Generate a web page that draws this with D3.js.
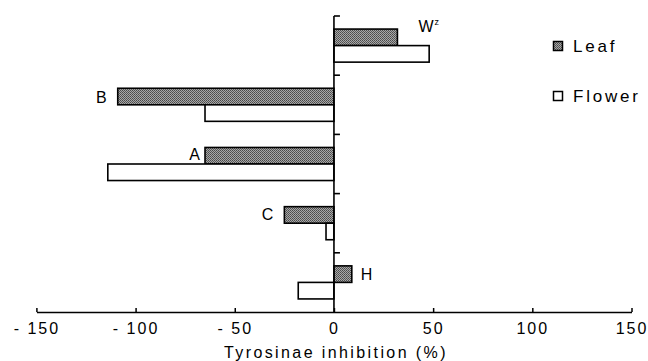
<!DOCTYPE html>
<html><head><meta charset="utf-8">
<script src="https://cdn.jsdelivr.net/npm/d3@7"></script>
<style>
html,body{margin:0;padding:0;background:#fff;}
svg text{font-family:"Liberation Sans",Arial,sans-serif;fill:#000;}
</style></head>
<body><svg id="c" width="648" height="361"></svg>
<script>
const categories = ["W", "B", "A", "C", "H"];
const series = ["Leaf", "Flower"];
const leafValues = [32, -109, -65, -25, 9];
const flowerValues = [48, -65, -114, -4, -18];
const xTicks = [-150, -100, -50, 0, 50, 100, 150];
const barLabels = ["W", "B", "A", "C", "H"];
const xTitle = "Tyrosinae inhibition (%)";

// label placement (layout, not data)
const labelDx = [21, -11, -5, -11, 9];
const labelDy = [-11, 0, -2, -1, 0];

const svg = d3.select("#c");
const x = d3.scaleLinear().domain([-150, 150]).range([36.4, 631.5]);
const y = d3.scaleBand().domain(categories).range([16, 312]).padding(0);
const y1 = d3.scaleBand().domain(series).range([0, y.bandwidth()]).paddingInner(0).paddingOuter(0.79);

const defs = svg.append("defs");
const pat = defs.append("pattern").attr("id", "stip").attr("patternUnits", "userSpaceOnUse")
  .attr("width", 2).attr("height", 2);
pat.append("rect").attr("width", 2).attr("height", 2).attr("fill", "#a8a8a8");
pat.append("rect").attr("x", 0).attr("y", 0).attr("width", 1).attr("height", 1).attr("fill", "#4a4a4a");
pat.append("rect").attr("x", 1).attr("y", 1).attr("width", 1).attr("height", 1).attr("fill", "#5a5a5a");

const rows = categories.map((c, i) => ({c, i, Leaf: leafValues[i], Flower: flowerValues[i]}));

const g = svg.append("g");
rows.forEach(r => {
  series.forEach(s => {
    const v = r[s];
    g.append("rect")
      .attr("x", x(Math.min(0, v)))
      .attr("y", y(r.c) + y1(s))
      .attr("width", Math.abs(x(v) - x(0)))
      .attr("height", y1.bandwidth())
      .attr("fill", s === "Leaf" ? "url(#stip)" : "#fff")
      .attr("stroke", "#000").attr("stroke-width", 1.6);
  });
});

// bar letters
rows.forEach((r, i) => {
  const v = r.Leaf;
  const t = svg.append("text")
    .attr("x", x(v) + labelDx[i])
    .attr("y", y(r.c) + y1("Leaf") + y1.bandwidth() / 2 + 6 + labelDy[i])
    .attr("text-anchor", v < 0 ? "end" : "start")
    .attr("font-size", 16);
  t.append("tspan").text(barLabels[i]);
  if (i === 0) t.append("tspan").text("z").attr("font-size", 9).attr("dy", -7).attr("dx", 1);
});

// x axis
const xAxis = d3.axisBottom(x).tickValues(xTicks).tickSizeInner(-4).tickSizeOuter(0).tickPadding(10)
  .tickFormat(d => d < 0 ? "- " + Math.abs(d) : String(d));
const xa = svg.append("g").attr("transform", "translate(0,312)").call(xAxis);
xa.select(".domain").attr("stroke", "#000").attr("stroke-width", 1.6);
xa.selectAll(".tick line").attr("stroke", "#000").attr("stroke-width", 1.5);
xa.selectAll(".tick text").attr("font-size", 16).attr("letter-spacing", "2px")
  .attr("font-family", "Liberation Sans, Arial, sans-serif").attr("fill", "#000").attr("dy", "0.72em");

// y axis at zero
const yTickPos = categories.map(c => y(c));
svg.append("line").attr("x1", x(0)).attr("x2", x(0)).attr("y1", y.range()[0]).attr("y2", y.range()[1])
  .attr("stroke", "#000").attr("stroke-width", 1.6);
svg.selectAll(".yt").data(yTickPos).enter().append("line")
  .attr("x1", x(0)).attr("x2", x(0) + 6).attr("y1", d => d).attr("y2", d => d)
  .attr("stroke", "#000").attr("stroke-width", 1.6);

// axis title
svg.append("text").attr("x", x(0) + 2).attr("y", 358).attr("text-anchor", "middle")
  .attr("font-size", 16).attr("letter-spacing", "2.4px").text(xTitle);

// legend
const lg = svg.append("g").attr("transform", "translate(553,41)");
series.forEach((s, i) => {
  lg.append("rect").attr("x", 0.5).attr("y", i * 50 + 0.5).attr("width", 9).attr("height", 9)
    .attr("fill", s === "Leaf" ? "url(#stip)" : "#fff").attr("stroke", "#000").attr("stroke-width", 1.5);
  lg.append("text").attr("x", 20).attr("y", i * 50 + 11).attr("font-size", 17)
    .attr("letter-spacing", "2.8px").text(s);
});
</script></body></html>
